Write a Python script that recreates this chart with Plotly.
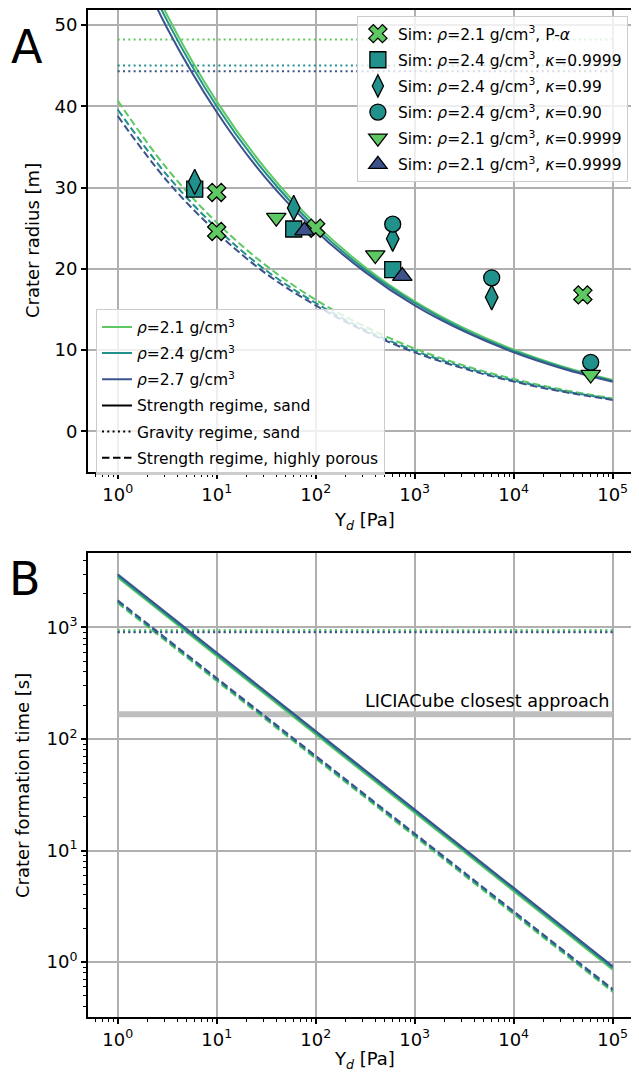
import plotly.graph_objects as go

# ---------------- data ----------------
GREEN = "#5ec962"
TEAL = "#21918c"
BLUE = "#3b528b"

# sample positions (half decades) of yield strength Y_d [Pa]
yd_pa = [1, 3.162, 10, 31.62, 100, 316.2, 1000, 3162, 10000, 31623, 100000]

# Panel A: strength regime, sand (solid)
r_str_21 = [64.6, 51.2, 40.6, 32.2, 25.5, 20.2, 16.0, 12.7, 10.06, 7.97, 6.32]
r_str_24 = [63.7, 50.5, 40.0, 31.7, 25.1, 19.9, 15.8, 12.5, 9.9, 7.85, 6.22]
r_str_27 = [62.6, 49.6, 39.3, 31.1, 24.7, 19.6, 15.5, 12.3, 9.73, 7.71, 6.11]
# strength regime, highly porous (dashed)
r_por_21 = [40.7, 32.3, 25.7, 20.4, 16.2, 12.9, 10.2, 8.1, 6.45, 5.12, 4.07]
r_por_24 = [39.6, 31.5, 25.0, 19.8, 15.8, 12.5, 9.93, 7.89, 6.27, 4.98, 3.96]
r_por_27 = [38.8, 30.8, 24.5, 19.4, 15.5, 12.3, 9.73, 7.73, 6.14, 4.88, 3.88]
# gravity regime, sand (dotted, constant)
yd_ends = [1, 100000]
r_grav_21 = [48.2, 48.2]
r_grav_24 = [45.0, 45.0]
r_grav_27 = [44.3, 44.3]

# simulations
sim_pa_x = [10, 10, 100, 50000]
sim_pa_r = [29.4, 24.6, 25.0, 16.8]
sim_sq_x = [6, 60, 600]
sim_sq_r = [29.8, 24.9, 19.9]
sim_di_x = [6, 60, 600, 6000]
sim_di_r = [30.7, 27.5, 23.7, 16.5]
sim_ci_x = [600, 6000, 60000]
sim_ci_r = [25.5, 18.9, 8.5]
sim_td_x = [40, 400, 60000]
sim_td_r = [26.3, 21.7, 7.0]
sim_tu_x = [77, 750]
sim_tu_r = [24.7, 19.1]

# Panel B: crater formation time [s]
t_str_21 = [2800, 0.855]
t_str_24 = [2900, 0.887]
t_str_27 = [3000, 0.918]
t_por_21 = [1650, 0.54]
t_por_24 = [1700, 0.557]
t_por_27 = [1750, 0.573]
t_grav_21 = [950, 950]
t_grav_24 = [915, 915]
t_grav_27 = [905, 905]
licia_t = [167, 167]
licia_label = "LICIACube closest approach"

x_ticks = [1, 10, 100, 1000, 10000, 100000]
x_ticktext = ["10<sup>0</sup>", "10<sup>1</sup>", "10<sup>2</sup>", "10<sup>3</sup>",
              "10<sup>4</sup>", "10<sup>5</sup>"]
yA_ticks = [0, 10, 20, 30, 40, 50]
yB_ticks = [1, 10, 100, 1000]
yB_ticktext = ["10<sup>0</sup>", "10<sup>1</sup>", "10<sup>2</sup>", "10<sup>3</sup>"]

minor_x = [m * 10 ** e for e in range(-1, 6) for m in range(2, 10)]
minor_yB = [m * 10 ** e for e in range(-1, 4) for m in range(2, 10)]

FONT = "DejaVu Sans"
TICK_SIZE = 18
TITLE_SIZE = 18
LEG_SIZE = 15.5
DASH = "7.5px,3.5px"
DOT = "2px,3.3px"

fig = go.Figure()

densities = [(GREEN, "2.1"), (TEAL, "2.4"), (BLUE, "2.7")]

# ---------- panel A curves ----------
for col, rs, rp, rg in [(GREEN, r_str_21, r_por_21, r_grav_21),
                        (TEAL, r_str_24, r_por_24, r_grav_24),
                        (BLUE, r_str_27, r_por_27, r_grav_27)]:
    fig.add_trace(go.Scatter(x=yd_ends, y=rg, mode="lines", showlegend=False,
                             line=dict(color=col, width=2, dash=DOT),
                             xaxis="x", yaxis="y"))
    fig.add_trace(go.Scatter(x=yd_pa, y=rs, mode="lines", showlegend=False,
                             line=dict(color=col, width=2, shape="spline"),
                             xaxis="x", yaxis="y"))
    fig.add_trace(go.Scatter(x=yd_pa, y=rp, mode="lines", showlegend=False,
                             line=dict(color=col, width=2, dash=DASH, shape="spline"),
                             xaxis="x", yaxis="y"))

# ---------- simulations ----------
sims = [
    (sim_pa_x, sim_pa_r, "x", GREEN, 16, "Sim: <i>ρ</i>=2.1 g/cm<sup>3</sup>, P-<i>α</i>"),
    (sim_sq_x, sim_sq_r, "square", TEAL, 16, "Sim: <i>ρ</i>=2.4 g/cm<sup>3</sup>, <i>κ</i>=0.9999"),
    (sim_di_x, sim_di_r, "diamond-tall", TEAL, 18, "Sim: <i>ρ</i>=2.4 g/cm<sup>3</sup>, <i>κ</i>=0.99"),
    (sim_ci_x, sim_ci_r, "circle", TEAL, 16, "Sim: <i>ρ</i>=2.4 g/cm<sup>3</sup>, <i>κ</i>=0.90"),
    (sim_td_x, sim_td_r, "triangle-down", GREEN, 17, "Sim: <i>ρ</i>=2.1 g/cm<sup>3</sup>, <i>κ</i>=0.9999"),
    (sim_tu_x, sim_tu_r, "triangle-up", BLUE, 17, "Sim: <i>ρ</i>=2.1 g/cm<sup>3</sup>, <i>κ</i>=0.9999"),
]
for i, (xs, ys, sym, col, sz, name) in enumerate(sims):
    fig.add_trace(go.Scatter(x=xs, y=ys, mode="markers", name=name, legend="legend",
                             legendgroup=f"s{i}",
                             marker=dict(symbol=sym, color=col, size=sz,
                                         line=dict(color="black", width=1.3)),
                             xaxis="x", yaxis="y"))

# ---------- legend 2 entries ----------
for i, (col, rho) in enumerate(densities):
    fig.add_trace(go.Scatter(x=[None], y=[None], mode="lines", legend="legend2",
                             legendgroup=f"d{i}",
                             name="<i>ρ</i>=%s g/cm<sup>3</sup>" % rho,
                             line=dict(color=col, width=2), xaxis="x", yaxis="y"))
for i, (dash, name) in enumerate([("solid", "Strength regime, sand"),
                                  (DOT, "Gravity regime, sand"),
                                  (DASH, "Strength regime, highly porous")]):
    fig.add_trace(go.Scatter(x=[None], y=[None], mode="lines", legend="legend2",
                             legendgroup=f"r{i}", name=name,
                             line=dict(color="black", width=2, dash=dash),
                             xaxis="x", yaxis="y"))

# ---------- panel B ----------
fig.add_trace(go.Scatter(x=yd_ends, y=licia_t, mode="lines", showlegend=False,
                         line=dict(color="#bebebe", width=6), xaxis="x2", yaxis="y2"))
for col, ts, tp, tg in [(GREEN, t_str_21, t_por_21, t_grav_21),
                        (TEAL, t_str_24, t_por_24, t_grav_24),
                        (BLUE, t_str_27, t_por_27, t_grav_27)]:
    fig.add_trace(go.Scatter(x=yd_ends, y=tg, mode="lines", showlegend=False,
                             line=dict(color=col, width=2, dash=DOT),
                             xaxis="x2", yaxis="y2"))
    fig.add_trace(go.Scatter(x=yd_ends, y=ts, mode="lines", showlegend=False,
                             line=dict(color=col, width=2),
                             xaxis="x2", yaxis="y2"))
    fig.add_trace(go.Scatter(x=yd_ends, y=tp, mode="lines", showlegend=False,
                             line=dict(color=col, width=2, dash=DASH),
                             xaxis="x2", yaxis="y2"))

xrange_log = [-0.300, 5.266]
axis_common = dict(showline=True, linecolor="black", linewidth=2, ticks="outside",
                   ticklen=5, tickwidth=1.5, tickcolor="black", showgrid=True,
                   gridcolor="#b0b0b0", gridwidth=1.5, zeroline=False,
                   tickfont=dict(family=FONT, size=TICK_SIZE, color="black"))
minor_log_x = dict(tickmode="array", tickvals=minor_x, ticks="outside", ticklen=3,
                   tickwidth=1, tickcolor="black", showgrid=False)
minor_log_y = dict(tickmode="array", tickvals=minor_yB, ticks="outside", ticklen=3,
                   tickwidth=1, tickcolor="black", showgrid=False)

legend_common = dict(xanchor="left", yanchor="top", bgcolor="rgba(255,255,255,0.8)",
                     bordercolor="#cccccc", borderwidth=1,
                     font=dict(family=FONT, size=LEG_SIZE, color="black"),
                     traceorder="grouped", tracegroupgap=3)

title_font = dict(family=FONT, size=TITLE_SIZE, color="black")

# the page body adds an 8 px offset, so the figure is 8 px smaller than the window
fig.update_layout(
    width=631, height=1068,
    margin=dict(l=80, r=0, t=0, b=59),
    paper_bgcolor="white", plot_bgcolor="white",
    font=dict(family=FONT, size=TICK_SIZE, color="black"),
    xaxis=dict(type="log", range=xrange_log, anchor="y", mirror=True,
               tickvals=x_ticks, ticktext=x_ticktext, minor=minor_log_x, **axis_common),
    yaxis=dict(range=[-5, 51.84], domain=[0.5411, 1.0], anchor="x",
               tickvals=yA_ticks, **axis_common),
    xaxis2=dict(type="log", range=xrange_log, anchor="y2", mirror=True,
                tickvals=x_ticks, ticktext=x_ticktext, minor=minor_log_x, **axis_common),
    yaxis2=dict(type="log", range=[-0.4925, 3.666], domain=[0.0, 0.4606], anchor="x2",
                tickvals=yB_ticks, ticktext=yB_ticktext, minor=minor_log_y, **axis_common),
    legend=dict(x=0.488, y=0.994, **legend_common),
    legend2=dict(x=0.0145, y=0.7027, **legend_common),
    annotations=[
        dict(text="A", x=-0.11, y=0.9633, xref="paper", yref="paper", showarrow=False,
             xanchor="center", yanchor="middle", font=dict(family=FONT, size=46, color="black")),
        dict(text="B", x=-0.114, y=0.4351, xref="paper", yref="paper", showarrow=False,
             xanchor="center", yanchor="middle", font=dict(family=FONT, size=46, color="black")),
        dict(text="Crater radius [m]", x=-0.1016, y=0.7706, xref="paper", yref="paper",
             showarrow=False, textangle=-90, xanchor="center", yanchor="middle",
             font=title_font),
        dict(text="Crater formation time [s]", x=-0.1198, y=0.2303, xref="paper", yref="paper",
             showarrow=False, textangle=-90, xanchor="center", yanchor="middle",
             font=title_font),
        dict(text="Y<sub><i>d</i></sub> [Pa]", x=0.5027, y=0.4926, xref="paper", yref="paper",
             showarrow=False, xanchor="center", yanchor="middle", font=title_font),
        dict(text="Y<sub><i>d</i></sub> [Pa]", x=0.5027, y=-0.0426, xref="paper", yref="paper",
             showarrow=False, xanchor="center", yanchor="middle", font=title_font),
        dict(text=licia_label, x=2.477, y=2.236, xref="x2", yref="y2", showarrow=False,
             xanchor="left", yanchor="bottom", font=dict(family=FONT, size=17.6, color="black")),
    ],
)

fig.write_html("out.html")
